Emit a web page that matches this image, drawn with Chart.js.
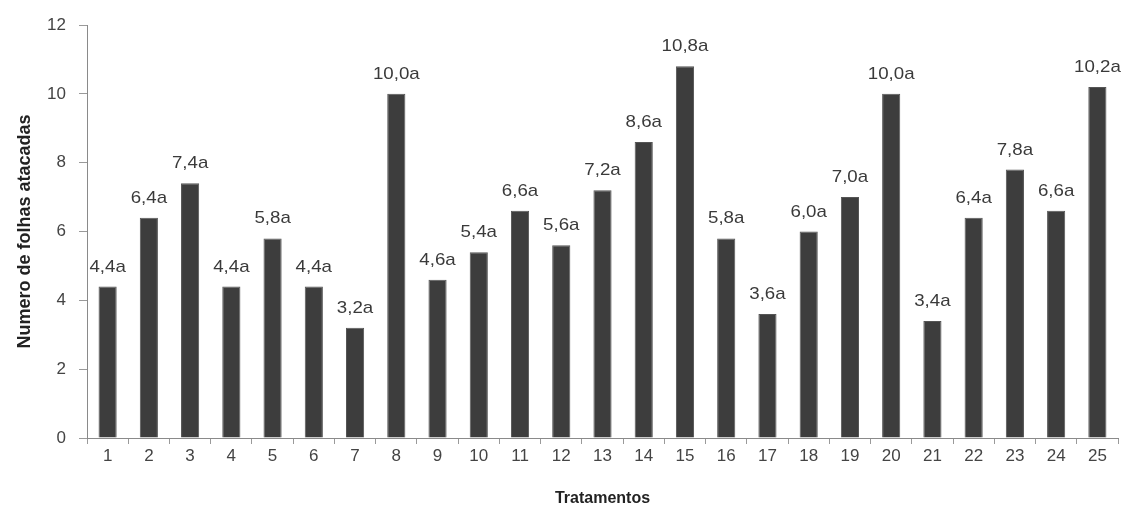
<!DOCTYPE html>
<html>
<head>
<meta charset="utf-8">
<script src="https://cdn.jsdelivr.net/npm/chart.js@4.4.1/dist/chart.umd.min.js"></script>
<style>
  html, body { margin: 0; padding: 0; background: #ffffff; }
  #wrap { width: 1124px; height: 511px; }
</style>
</head>
<body>
<div id="wrap"><canvas id="c" width="1124" height="511"></canvas></div>
<script>
// Tratamentos (eixo X)
const tratamentos = ['1','2','3','4','5','6','7','8','9','10','11','12','13','14','15','16','17','18','19','20','21','22','23','24','25'];
// Número médio de folhas atacadas por tratamento
const folhasAtacadas = [4.4, 6.4, 7.4, 4.4, 5.8, 4.4, 3.2, 10.0, 4.6, 5.4, 6.6, 5.6, 7.2, 8.6, 10.8, 5.8, 3.6, 6.0, 7.0, 10.0, 3.4, 6.4, 7.8, 6.6, 10.2];
// Letras do teste de médias
const letras = ['a','a','a','a','a','a','a','a','a','a','a','a','a','a','a','a','a','a','a','a','a','a','a','a','a'];
// Escala do eixo Y
const yMin = 0;
const yMax = 12;
const yPasso = 2;

const FONT = '"Liberation Sans", Arial, sans-serif';

// Rótulos "valor + letra" acima de cada barra
const rotulosBarras = {
  id: 'rotulosBarras',
  afterDatasetsDraw(chart) {
    const ctx = chart.ctx;
    const meta = chart.getDatasetMeta(0);
    ctx.save();
    ctx.fillStyle = '#3a3a3a';
    ctx.font = '17px ' + FONT;
    ctx.textAlign = 'center';
    ctx.textBaseline = 'alphabetic';
    meta.data.forEach((bar, i) => {
      const v = chart.data.datasets[0].data[i];
      const txt = v.toFixed(1).replace('.', ',') + letras[i];
      ctx.save();
      ctx.translate(bar.x, bar.y - 15);
      ctx.scale(1.1, 1);
      ctx.fillText(txt, 0, 0);
      ctx.restore();
    });
    ctx.restore();
  }
};

new Chart(document.getElementById('c'), {
  type: 'bar',
  data: {
    labels: tratamentos,
    datasets: [{
      data: folhasAtacadas,
      backgroundColor: '#3d3d3d',
      borderColor: '#555555',
      borderWidth: 1,
      categoryPercentage: 1.0,
      barPercentage: 0.44
    }]
  },
  options: {
    responsive: false,
    animation: false,
    devicePixelRatio: 1,
    layout: { padding: { top: 25, right: 6, left: 0, bottom: 0 } },
    plugins: {
      legend: { display: false },
      tooltip: { enabled: false }
    },
    scales: {
      x: {
        grid: { display: true, drawOnChartArea: false, drawTicks: true, tickLength: 6, color: '#9a9a9a', offset: true },
        border: { color: '#8a8a8a', width: 1 },
        ticks: { color: '#444444', font: { size: 17, family: FONT }, padding: 2, maxRotation: 0, autoSkip: false },
        title: { display: true, text: 'Tratamentos', color: '#222222', font: { size: 16, weight: 'bold', family: FONT }, padding: { top: 6, bottom: 3 } },
        afterFit(s) { s.height = 73; }
      },
      y: {
        min: yMin,
        max: yMax,
        grid: { display: true, drawOnChartArea: false, drawTicks: true, tickLength: 8, color: '#9a9a9a' },
        border: { color: '#8a8a8a', width: 1 },
        ticks: { stepSize: yPasso, color: '#444444', font: { size: 17, family: FONT }, padding: 13 },
        title: { display: true, text: 'Numero de folhas atacadas', color: '#222222', font: { size: 18, weight: 'bold', family: FONT }, padding: { top: 14, bottom: 0 } },
        afterFit(s) { s.width = 87; }
      }
    }
  },
  plugins: [rotulosBarras]
});
</script>
</body>
</html>
